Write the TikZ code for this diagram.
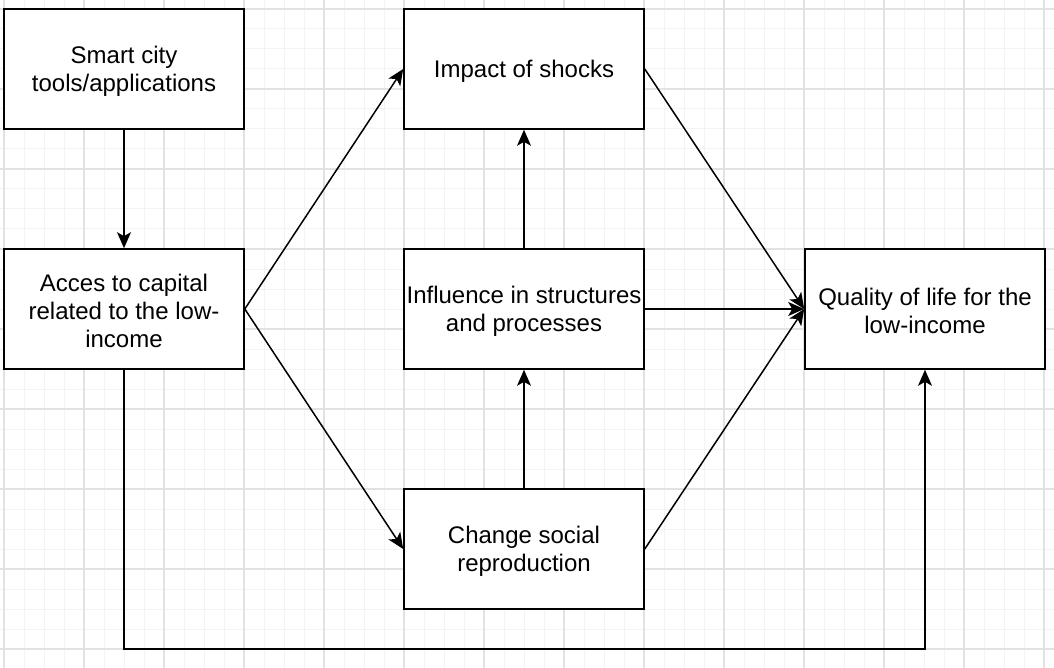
\documentclass[tikz,border=0pt]{standalone}
\usepackage{fontspec}
\setmainfont{Liberation Sans}
\usetikzlibrary{arrows.meta}
\begin{document}
\begin{tikzpicture}[x=1pt,y=-1pt,
  minorgrid/.style={draw={rgb,255:red,243;green,243;blue,243}, line width=1pt},
  majorgrid/.style={draw={rgb,255:red,226;green,226;blue,226}, line width=1.2pt},
  box/.style={draw=black, line width=1.6pt, fill=white, minimum width=240pt, minimum height=120pt,
    align=center, inner sep=0pt, font=\fontsize{24}{28}\selectfont},
  lbl/.style={align=center, inner sep=0pt, font=\fontsize{24}{28}\selectfont},
  conn/.style={draw=black, line width=1.5pt, -{Stealth[length=16pt,width=14pt,inset=4pt]}}
]
\fill[white] (0,0) rectangle (1054,668);
\useasboundingbox (0,0) rectangle (1054,668);
\foreach \x in {4,24,...,1054} \draw[minorgrid] (\x,0) -- (\x,668);
\foreach \y in {9,29,...,668} \draw[minorgrid] (0,\y) -- (1054,\y);
\foreach \x in {4,84,...,1054} \draw[majorgrid] (\x,0) -- (\x,668);
\foreach \y in {9,89,...,668} \draw[majorgrid] (0,\y) -- (1054,\y);

\node[box] (smart) at (124,69) {};
\node[box] (acces) at (124,309) {};
\node[box] (impact) at (524,69) {};
\node[box] (influence) at (524,309) {};
\node[box] (change) at (524,549) {};
\node[box] (quality) at (925,309) {};
\node[lbl] (smartt) at (124,71) {Smart city\\tools/applications};
\node[lbl] (accest) at (124,311) {Acces to capital\\related to the low-\\income};
\node[lbl] (impactt) at (524,71) {Impact of shocks};
\node[lbl] (influencet) at (524,311) {Influence in structures\\and processes};
\node[lbl] (changet) at (524,551) {Change social\\reproduction};
\node[lbl] (qualityt) at (925,311) {Quality of life for the\\low-income};

\draw[conn] (smart.south) -- (acces.north);
\draw[conn] (acces.east) -- (impact.west);
\draw[conn] (acces.east) -- (change.west);
\draw[conn] (influence.north) -- (impact.south);
\draw[conn] (change.north) -- (influence.south);
\draw[conn] (impact.east) -- (quality.west);
\draw[conn] (influence.east) -- (quality.west);
\draw[conn] (change.east) -- (quality.west);
\coordinate (bend) at (124,649);
\draw[conn] (acces.south) -- (bend) -| (quality.south);
\end{tikzpicture}
\end{document}
